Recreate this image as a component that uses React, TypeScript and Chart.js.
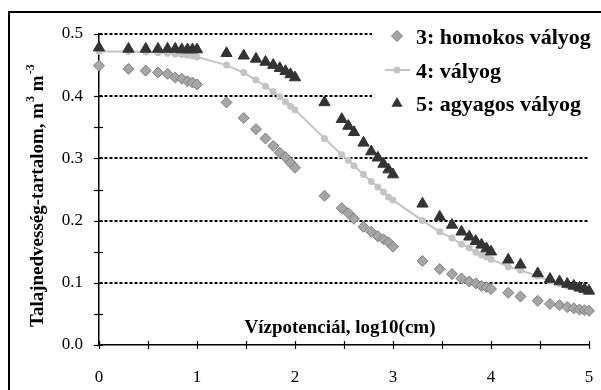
import React, { useEffect, useRef } from 'react';
import { Chart, registerables } from 'chart.js';
Chart.register(...registerables);

const xLog = [0, 0.301, 0.477, 0.602, 0.699, 0.778, 0.845, 0.903, 0.954, 1,
  1.301, 1.477, 1.602, 1.699, 1.778, 1.845, 1.903, 1.954, 2,
  2.301, 2.477, 2.544, 2.602, 2.699, 2.778, 2.845, 2.903, 2.954, 3,
  3.301, 3.477, 3.602, 3.699, 3.778, 3.845, 3.903, 3.954, 4,
  4.176, 4.301, 4.477, 4.602, 4.699, 4.778, 4.845, 4.903, 4.954, 5];

const homokos = [0.449, 0.444, 0.441, 0.438, 0.436, 0.430, 0.428, 0.424, 0.422, 0.419,
  0.390, 0.365, 0.347, 0.332, 0.320, 0.309, 0.302, 0.293, 0.285,
  0.240, 0.220, 0.212, 0.203, 0.190, 0.182, 0.175, 0.170, 0.165, 0.158,
  0.135, 0.122, 0.114, 0.107, 0.102, 0.099, 0.095, 0.093, 0.090,
  0.084, 0.078, 0.071, 0.066, 0.064, 0.061, 0.059, 0.057, 0.056, 0.055];

const valyog = [0.472, 0.472, 0.471, 0.470, 0.469, 0.468, 0.467, 0.466, 0.465, 0.463,
  0.450, 0.438, 0.426, 0.416, 0.407, 0.399, 0.391, 0.384, 0.378,
  0.332, 0.306, 0.297, 0.288, 0.274, 0.263, 0.254, 0.246, 0.238, 0.233,
  0.200, 0.182, 0.172, 0.162, 0.156, 0.149, 0.145, 0.142, 0.138,
  0.126, 0.120, 0.111, 0.103, 0.099, 0.095, 0.094, 0.091, 0.090, 0.087];

const agyagos = [0.478, 0.476, 0.476, 0.476, 0.476, 0.476, 0.475, 0.475, 0.475, 0.475,
  0.469, 0.465, 0.460, 0.455, 0.450, 0.445, 0.440, 0.435, 0.430,
  0.390, 0.363, 0.352, 0.342, 0.325, 0.311, 0.301, 0.291, 0.282, 0.274,
  0.227, 0.206, 0.193, 0.182, 0.174, 0.167, 0.161, 0.155, 0.150,
  0.137, 0.129, 0.115, 0.106, 0.102, 0.098, 0.095, 0.092, 0.090, 0.087];

const seriesNames = ['3: homokos vályog', '4: vályog', '5: agyagos vályog'];
const xTitle = 'Vízpotenciál, log10(cm)';
const yTitleMain = 'Talajnedvesség-tartalom, m';
const yTitleSup1 = '3';
const yTitleMid = ' m';
const yTitleSup2 = '-3';

const SERIF = '"Liberation Serif", "Times New Roman", serif';
const DIAMOND_FILL = '#a6a6a6';
const DIAMOND_BORDER = '#7f7f7f';
const CIRCLE = '#c4c4c4';
const TRI = '#333333';
const DIA_R = 5.5;
const TRI_R = 6.5;

const isMultiple = (v: number, step: number) => Math.abs(v / step - Math.round(v / step)) < 1e-6;

const pairs = (ys: number[]) => xLog.map((x, i) => ({ x, y: ys[i] }));

export default function App() {
  const ref = useRef<HTMLCanvasElement | null>(null);
  useEffect(() => {
    const canvas = ref.current;
    if (!canvas) return;

    const decorPlugin = {
      id: 'decor',
      beforeDraw(chart: any) {
        const ctx = chart.ctx;
        ctx.save();
        ctx.fillStyle = '#ffffff';
        ctx.fillRect(0, 0, chart.width, chart.height);
        ctx.restore();
      },
      beforeDatasetsDraw(chart: any) {
        const ctx = chart.ctx;
        const xs = chart.scales.x;
        const ys = chart.scales.y;
        ctx.save();
        ctx.strokeStyle = '#000';
        ctx.lineWidth = 1.2;
        xs.ticks.forEach((t: any) => {
          const px = Math.round(xs.getPixelForValue(t.value)) + 0.5;
          ctx.beginPath();
          ctx.moveTo(px, ys.bottom - 4);
          ctx.lineTo(px, ys.bottom + 4);
          ctx.stroke();
        });
        ys.ticks.forEach((t: any) => {
          const py = Math.round(ys.getPixelForValue(t.value)) + 0.5;
          ctx.beginPath();
          ctx.moveTo(xs.left - 5, py);
          ctx.lineTo(xs.left + 4, py);
          ctx.stroke();
        });
        ctx.fillStyle = '#000';
        ctx.font = `bold 19px ${SERIF}`;
        ctx.textAlign = 'center';
        ctx.textBaseline = 'alphabetic';
        ctx.fillText(xTitle, 340, 333);
        ctx.restore();
      },
      afterDraw(chart: any) {
        const ctx = chart.ctx;
        ctx.save();
        ctx.translate(43, 327);
        ctx.rotate(-Math.PI / 2);
        ctx.fillStyle = '#000';
        ctx.textAlign = 'left';
        ctx.textBaseline = 'alphabetic';
        let x = 0;
        ctx.font = `bold 19px ${SERIF}`;
        ctx.fillText(yTitleMain, x, 0);
        x += ctx.measureText(yTitleMain).width + 1;
        ctx.font = `bold 12px ${SERIF}`;
        ctx.fillText(yTitleSup1, x, -9);
        x += ctx.measureText(yTitleSup1).width;
        ctx.font = `bold 19px ${SERIF}`;
        ctx.fillText(yTitleMid, x, 0);
        x += ctx.measureText(yTitleMid).width + 1;
        ctx.font = `bold 12px ${SERIF}`;
        ctx.fillText(yTitleSup2, x, -9);
        ctx.restore();

        ctx.save();
        ctx.fillStyle = '#fff';
        ctx.fillRect(372, 18, 222, 104);
        const rows = [36, 70, 103.5];
        const mx = 397;
        ctx.beginPath();
        ctx.moveTo(mx - DIA_R, rows[0]);
        ctx.lineTo(mx, rows[0] - DIA_R);
        ctx.lineTo(mx + DIA_R, rows[0]);
        ctx.lineTo(mx, rows[0] + DIA_R);
        ctx.closePath();
        ctx.fillStyle = DIAMOND_FILL;
        ctx.strokeStyle = DIAMOND_BORDER;
        ctx.lineWidth = 1;
        ctx.fill();
        ctx.stroke();
        ctx.beginPath();
        ctx.strokeStyle = CIRCLE;
        ctx.lineWidth = 2;
        ctx.moveTo(385, rows[1]);
        ctx.lineTo(410, rows[1]);
        ctx.stroke();
        ctx.beginPath();
        ctx.fillStyle = CIRCLE;
        ctx.arc(mx, rows[1], 3.5, 0, Math.PI * 2);
        ctx.fill();
        const r = TRI_R;
        ctx.beginPath();
        ctx.moveTo(mx, rows[2] - r);
        ctx.lineTo(mx + Math.sin(2 * Math.PI / 3) * r, rows[2] + r / 2);
        ctx.lineTo(mx - Math.sin(2 * Math.PI / 3) * r, rows[2] + r / 2);
        ctx.closePath();
        ctx.fillStyle = TRI;
        ctx.fill();
        ctx.fillStyle = '#000';
        ctx.font = `bold 22px ${SERIF}`;
        ctx.textAlign = 'left';
        ctx.textBaseline = 'alphabetic';
        seriesNames.forEach((s, i) => ctx.fillText(s, 416, rows[i] + 7.5));
        ctx.restore();

        ctx.save();
        ctx.strokeStyle = '#000';
        ctx.lineWidth = 2;
        ctx.beginPath();
        ctx.moveTo(9, 400);
        ctx.lineTo(9, 12);
        ctx.lineTo(610, 12);
        ctx.stroke();
        ctx.restore();
      },
    };

    const chart = new Chart(canvas, {
      type: 'scatter',
      data: {
        datasets: [
          {
            label: seriesNames[0],
            data: pairs(homokos),
            showLine: false,
            pointStyle: 'rectRot',
            pointRadius: DIA_R,
            pointBackgroundColor: DIAMOND_FILL,
            pointBorderColor: DIAMOND_BORDER,
            pointBorderWidth: 1,
            order: 3,
            clip: false,
          },
          {
            label: seriesNames[1],
            data: pairs(valyog),
            showLine: true,
            borderColor: CIRCLE,
            borderWidth: 2,
            pointStyle: 'circle',
            pointRadius: 3.5,
            pointBackgroundColor: CIRCLE,
            pointBorderColor: CIRCLE,
            pointBorderWidth: 0,
            order: 2,
            clip: false,
          },
          {
            label: seriesNames[2],
            data: pairs(agyagos),
            showLine: false,
            pointStyle: 'triangle',
            pointRadius: TRI_R,
            pointBackgroundColor: TRI,
            pointBorderColor: TRI,
            pointBorderWidth: 1,
            order: 1,
            clip: false,
          },
        ] as any,
      },
      options: {
        responsive: false,
        animation: false,
        devicePixelRatio: 1,
        layout: { padding: { left: 39, right: 12, top: 34, bottom: 5 } },
        plugins: { legend: { display: false }, tooltip: { enabled: false } },
        scales: {
          x: {
            type: 'linear',
            min: 0,
            max: 5,
            afterFit: (s: any) => { s.height = 40; s.paddingLeft = 0; s.paddingRight = 0; },
            ticks: {
              stepSize: 0.5,
              autoSkip: false,
              maxRotation: 0,
              padding: 22,
              color: '#000',
              font: { family: SERIF, size: 17 },
              callback: (v: any) => (isMultiple(Number(v), 1) ? String(Math.round(Number(v))) : ''),
            },
            grid: { display: false, drawTicks: false },
            border: { display: true, color: '#000', width: 1.5 },
          },
          y: {
            type: 'linear',
            min: 0,
            max: 0.5,
            afterFit: (s: any) => { s.width = 60; },
            ticks: {
              stepSize: 0.05,
              autoSkip: false,
              padding: 16,
              color: '#000',
              font: { family: SERIF, size: 17 },
              callback: (v: any) => (isMultiple(Number(v), 0.1) ? Number(v).toFixed(1) : ''),
            },
            grid: {
              drawTicks: false,
              lineWidth: 2,
              color: (c: any) => {
                const v = c.tick ? c.tick.value : NaN;
                return v > 0.01 && isMultiple(v, 0.1) ? '#000' : 'rgba(0,0,0,0)';
              },
            },
            border: { display: true, color: '#000', width: 1.5, dash: [3, 2] },
          },
        },
      } as any,
      plugins: [decorPlugin],
    });
    return () => chart.destroy();
  }, []);

  return (
    <div style={{ position: 'absolute', left: 0, top: 0, width: 601, height: 390 }}>
      <canvas ref={ref} width={601} height={390} style={{ width: 601, height: 390, display: 'block' }} />
    </div>
  );
}
